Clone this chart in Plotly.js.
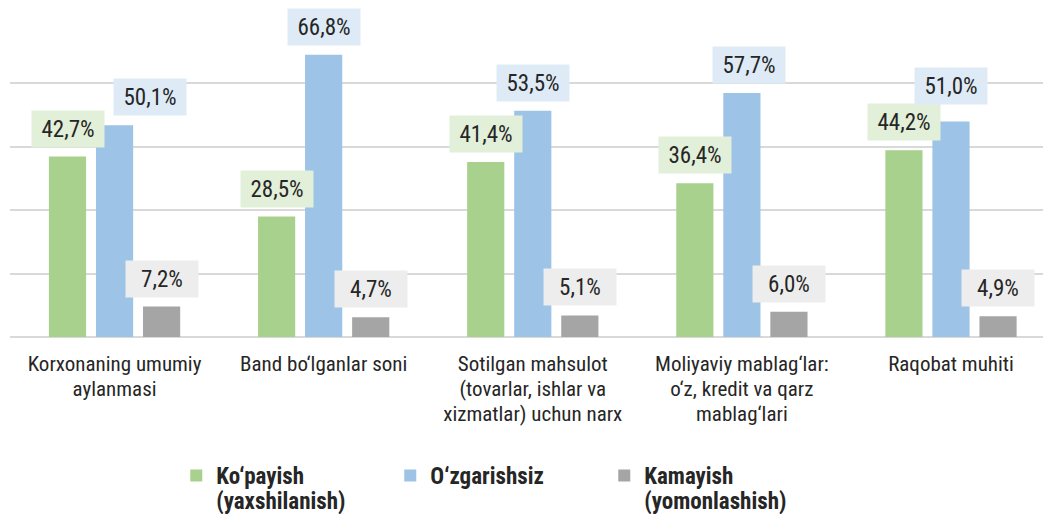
<!DOCTYPE html>
<html>
<head>
<meta charset="utf-8">
<script src="https://cdn.plot.ly/plotly-3.0.1.min.js"></script>
<style>html,body{margin:0;padding:0;background:#fff;}#chart{width:1043px;height:514px;}</style>
</head>
<body>
<div id="chart"></div>
<script>
var categories = [
  "Korxonaning umumiy<br>aylanmasi",
  "Band bo‘lganlar soni",
  "Sotilgan mahsulot<br>(tovarlar, ishlar va<br>xizmatlar) uchun narx",
  "Moliyaviy mablag‘lar:<br>o‘z, kredit va qarz<br>mablag‘lari",
  "Raqobat muhiti"
];
var seriesNames = ["Ko‘payish<br>(yaxshilanish)", "O‘zgarishsiz", "Kamayish<br>(yomonlashish)"];
var kopayish = [42.7, 28.5, 41.4, 36.4, 44.2];
var ozgarishsiz = [50.1, 66.8, 53.5, 57.7, 51.0];
var kamayish = [7.2, 4.7, 5.1, 6.0, 4.9];

var FONT = "'Roboto Condensed', 'Liberation Sans Narrow', 'Arial Narrow', Roboto, sans-serif";
var barColors = ["#a9d18e", "#9dc3e6", "#a5a5a5"];
var boxColors = ["#e2efd9", "#deebf7", "#ededed"];
var seriesData = [kopayish, ozgarishsiz, kamayish];
var slot = 0.225; // category-units offset between bars in a group

var traces = seriesData.map(function (vals, i) {
  return {
    type: "bar",
    name: seriesNames[i],
    x: categories,
    y: vals,
    marker: { color: barColors[i] },
    hoverinfo: "skip"
  };
});

function fmt(v) { return v.toFixed(1).replace(".", ",") + "%"; }

// manual label nudges (style only), keyed by series/category index
var nudge = { "1-0": { dx: 35, dy: 0 }, "1-3": { dx: 7, dy: 0 }, "1-4": { dx: 0, dy: 7 } };

var annotations = [];
seriesData.forEach(function (vals, i) {
  vals.forEach(function (v, j) {
    var n = nudge[i + "-" + j] || { dx: 0, dy: 0 };
    annotations.push({
      x: j + (i - 1) * slot,
      y: v,
      xref: "x",
      yref: "y",
      text: fmt(v),
      showarrow: false,
      xanchor: "center",
      yanchor: "bottom",
      xshift: n.dx,
      yshift: 9 + n.dy,
      bgcolor: boxColors[i],
      borderpad: 5,
      width: 62,
      height: 26,
      font: { family: FONT, size: 23, color: "#262626" }
    });
  });
});

var layout = {
  width: 1043,
  height: 514,
  margin: { l: 10, r: 0, t: 20, b: 177 },
  paper_bgcolor: "#ffffff",
  plot_bgcolor: "#ffffff",
  barmode: "group",
  bargap: 0.325,
  bargroupgap: 0.21,
  font: { family: FONT, size: 21, color: "#262626" },
  xaxis: {
    type: "category",
    range: [-0.5, 4.44],
    showgrid: false,
    showline: false,
    zeroline: false,
    ticks: "",
    ticklabelstandoff: 12,
    tickfont: { family: FONT, size: 21, color: "#262626" },
    fixedrange: true
  },
  yaxis: {
    range: [0, 75],
    dtick: 15,
    showticklabels: false,
    showgrid: true,
    gridcolor: "#d9d9d9",
    gridwidth: 2,
    zeroline: true,
    zerolinecolor: "#d9d9d9",
    zerolinewidth: 2,
    showline: false,
    ticks: "",
    fixedrange: true
  },
  showlegend: true,
  legend: {
    orientation: "h",
    xref: "container",
    yref: "container",
    x: 0.169,
    y: 1 - 454 / 514,
    xanchor: "left",
    yanchor: "top",
    valign: "top",
    entrywidth: 169,
    entrywidthmode: "pixels",
    itemwidth: 30,
    font: { family: FONT, size: 23, color: "#262626", weight: "bold" },
    traceorder: "normal"
  },
  annotations: annotations
};

function scaleLines(nodes, factor) {
  nodes.forEach(function (t) {
    var dy = t.getAttribute("dy");
    if (dy && /em$/.test(dy)) {
      var v = parseFloat(dy);
      if (v) t.setAttribute("dy", (v * factor).toFixed(3) + "em");
    }
  });
}

Plotly.newPlot("chart", traces, layout, { displayModeBar: false, staticPlot: true }).then(function (gd) {
  // tighten multi-line spacing to match the reference
  scaleLines(gd.querySelectorAll(".legendtext tspan.line"), 1.07 / 1.3);
  scaleLines(gd.querySelectorAll(".xtick text tspan.line"), 1.2 / 1.3);
});
</script>
</body>
</html>
